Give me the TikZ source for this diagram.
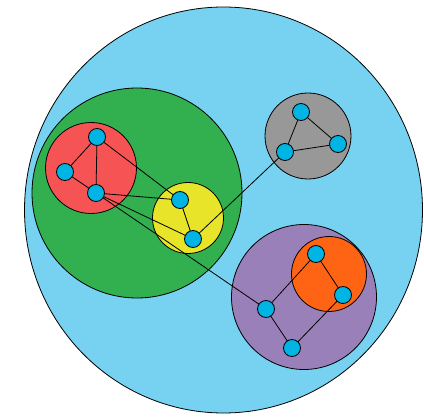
\documentclass[tikz,border=0pt]{standalone}
\usetikzlibrary{shapes.geometric}
\definecolor{bgblue}{RGB}{118,210,240}
\definecolor{cgreen}{RGB}{50,176,80}
\definecolor{cred}{RGB}{246,84,84}
\definecolor{cyellow}{RGB}{232,228,42}
\definecolor{cgray}{RGB}{152,152,152}
\definecolor{cpurple}{RGB}{154,128,184}
\definecolor{corange}{RGB}{255,100,20}
\definecolor{vblue}{RGB}{0,180,228}
\begin{document}
\begin{tikzpicture}[x=1pt,y=-1pt,
  cluster/.style={circle,draw=black,line width=0.8pt,inner sep=0pt},
  vtx/.style={circle,draw=black,line width=0.8pt,fill=vblue,minimum size=17pt,inner sep=0pt},
  edge/.style={draw=black,line width=0.8pt}]
\useasboundingbox (0,0) rectangle (424,417);
\node[ellipse,draw=black,line width=0.8pt,inner sep=0pt,fill=bgblue,minimum width=398pt,minimum height=406pt] (world) at (223.5,210) {};
\node[cluster,fill=cgreen,minimum size=210pt] (green) at (137,193) {};
\node[cluster,fill=cred,minimum size=91pt] (red) at (91,168) {};
\node[cluster,fill=cyellow,minimum size=71pt] (yellow) at (188,218) {};
\node[cluster,fill=cgray,minimum size=86pt] (gray) at (308,136) {};
\node[cluster,fill=cpurple,minimum size=145pt] (purple) at (304,297) {};
\node[cluster,fill=corange,minimum size=75pt] (orange) at (329,274) {};
% vertex coordinates
\coordinate (r1) at (97,137);
\coordinate (r2) at (65,172);
\coordinate (r3) at (96,193);
\coordinate (y1) at (180,200);
\coordinate (y2) at (193,239);
\coordinate (g1) at (301,112);
\coordinate (g2) at (285,152);
\coordinate (g3) at (338,144);
\coordinate (o1) at (316,254);
\coordinate (o2) at (343,295);
\coordinate (p1) at (266,309);
\coordinate (p2) at (292,348);
% edges
\draw[edge] (r1) -- (r2) (r1) -- (r3) (r2) -- (r3)
  (r1) -- (y1) (r3) -- (y1) (r3) -- (y2) (r3) -- (p1)
  (y1) -- (y2) (y2) -- (g2)
  (g1) -- (g2) (g1) -- (g3) (g2) -- (g3)
  (o1) -- (o2) (o1) -- (p1) (o2) -- (p2) (p1) -- (p2);
% vertices
\foreach \v in {r1,r2,r3,y1,y2,g1,g2,g3,o1,o2,p1,p2}
  \node[vtx] (n\v) at (\v) {};
\end{tikzpicture}
\end{document}
